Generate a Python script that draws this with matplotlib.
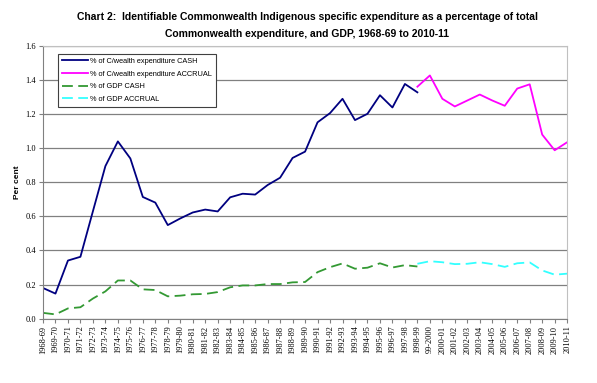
import numpy as np
import matplotlib
matplotlib.use("Agg")
import matplotlib.pyplot as plt

## Data

years = ['1968-69', '1969-70', '1970-71', '1971-72', '1972-73', '1973-74', '1974-75',
         '1975-76', '1976-77', '1977-78', '1978-79', '1979-80', '1980-81', '1981-82',
         '1982-83', '1983-84', '1984-85', '1985-86', '1986-87', '1987-88', '1988-89',
         '1989-90', '1990-91', '1991-92', '1992-93', '1993-94', '1994-95', '1995-96',
         '1996-97', '1997-98', '1998-99', '99-2000', '2000-01', '2001-02', '2002-03',
         '2003-04', '2004-05', '2005-06', '2006-07', '2007-08', '2008-09', '2009-10',
         '2010-11']

nan = np.nan
# % of C/wealth expenditure, cash basis (to 1998-99)
cw_cash = [0.18, 0.147, 0.341, 0.363, 0.63, 0.895, 1.04, 0.94, 0.714, 0.681, 0.549,
           0.588, 0.623, 0.640, 0.629, 0.712, 0.733, 0.728, 0.784, 0.827, 0.943, 0.98,
           1.152, 1.206, 1.29, 1.165, 1.202, 1.311, 1.239, 1.377, 1.328] + [nan]*12
# % of C/wealth expenditure, accrual basis (from 1998-99)
cw_accrual = [nan]*30 + [1.361, 1.427, 1.29, 1.245, 1.28, 1.315, 1.28, 1.249, 1.35,
                         1.375, 1.08, 0.988, 1.035]
# % of GDP, cash
gdp_cash = [0.034, 0.025, 0.06, 0.067, 0.118, 0.16, 0.224, 0.224, 0.172, 0.168, 0.131,
            0.135, 0.143, 0.145, 0.156, 0.184, 0.195, 0.195, 0.203, 0.203, 0.213, 0.215,
            0.273, 0.302, 0.324, 0.293, 0.299, 0.325, 0.30, 0.314, 0.306] + [nan]*12
# % of GDP, accrual
gdp_accrual = [nan]*30 + [0.322, 0.337, 0.331, 0.32, 0.322, 0.331, 0.32, 0.304, 0.325,
                          0.33, 0.283, 0.258, 0.264]

##

plt.rcParams['font.family'] = ['Liberation Sans', 'DejaVu Sans']

fig = plt.figure(figsize=(5.97, 3.83), dpi=100)
ax = fig.add_axes([0.072, 0.168, 0.878, 0.712])

x = np.arange(len(years))
ax.plot(x, cw_cash, color='#000080', lw=1.3, label='% of C/wealth expenditure CASH')
ax.plot(x, cw_accrual, color='#ff00ff', lw=1.3, label='% of C/wealth expenditure ACCRUAL')
ax.plot(x, gdp_cash, color='#339933', lw=1.3, dashes=(6, 3), label='% of GDP CASH')
ax.plot(x, gdp_accrual, color='#33ffff', lw=1.3, dashes=(6, 3), label='% of GDP ACCRUAL')

ax.set_xlim(0, len(years) - 1)
ax.set_ylim(0, 1.6)
yt = np.arange(0, 1.61, 0.2)
ax.set_yticks(yt)
ax.set_yticklabels(['%.1f' % v for v in yt], fontsize=6, family='Liberation Serif')
ax.set_xticks(x)
ax.set_xticklabels(years, rotation=90, fontsize=6, family='Liberation Serif')
ax.tick_params(axis='x', length=3, color='#808080', pad=2)
ax.tick_params(axis='y', length=3, color='#808080', pad=2)

ax.grid(True, axis='y', color='#808080', lw=0.9)
ax.set_axisbelow(True)
for s in ['top', 'right']:
    ax.spines[s].set_color('#c0c0c0')
for s in ['left', 'bottom']:
    ax.spines[s].set_color('#808080')

ax.set_ylabel('Per cent', fontsize=6, fontweight='bold', labelpad=3)

leg = ax.legend(loc='upper left', bbox_to_anchor=(0.021, 0.985), fontsize=5.3,
                handlelength=3.6, handletextpad=0.2, labelspacing=0.75,
                fancybox=False, borderpad=0.55, framealpha=1)
leg.get_frame().set_edgecolor('#404040')
leg.get_frame().set_linewidth(0.8)

fig.text(0.515, 0.955, 'Chart 2:  Identifiable Commonwealth Indigenous specific expenditure as a percentage of total',
         ha='center', va='center', fontsize=7.5, fontweight='bold')
fig.text(0.515, 0.91, 'Commonwealth expenditure, and GDP, 1968-69 to 2010-11',
         ha='center', va='center', fontsize=7.5, fontweight='bold')

fig.savefig('out.png', dpi=100)
